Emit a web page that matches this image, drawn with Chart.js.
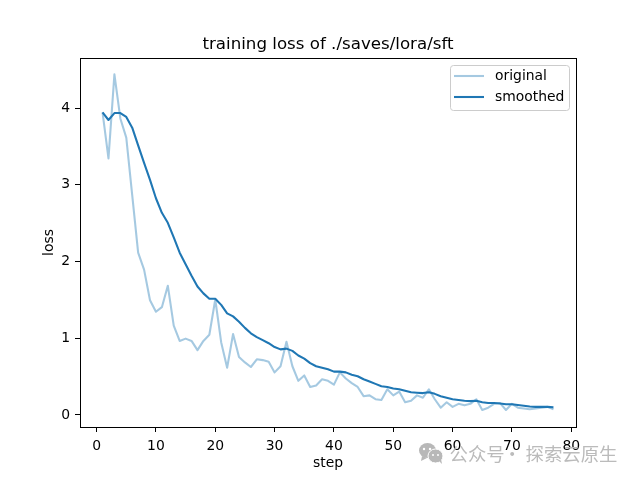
<!DOCTYPE html>
<html>
<head>
<meta charset="utf-8">
<script src="https://cdn.jsdelivr.net/npm/chart.js@4"></script>
<style>
body{margin:0;background:#fff;}
canvas{display:block;}
</style>
</head>
<body>
<canvas id="myChart" width="640" height="480"></canvas>
<script>
let steps = [];
for(let i=1;i<=77;i++)
	steps.push(i);
let original = [3.945,3.345,4.44,3.865,3.615,2.865,2.115,1.895,1.495,1.345,1.405,1.685,1.165,0.965,0.995,0.965,0.845,0.965,1.045,1.505,
	0.945,0.615,1.055,0.755,0.685,0.625,0.725,0.715,0.695,0.555,0.635,0.955,0.635,0.445,0.515,0.365,0.385,0.465,0.445,0.395,
	0.555,0.475,0.415,0.365,0.245,0.255,0.205,0.195,0.335,0.255,0.305,0.165,0.185,0.255,0.225,0.335,0.205,0.095,0.165,0.105,
	0.145,0.125,0.145,0.205,0.065,0.095,0.145,0.155,0.065,0.145,0.095,0.085,0.075,0.085,0.095,0.105,0.075];
let smoothed = [3.945,3.845,3.935,3.935,3.885,3.745,3.515,3.285,3.065,2.825,2.635,2.505,2.315,2.115,1.965,1.815,1.675,1.585,1.515,1.515,
	1.435,1.325,1.285,1.215,1.135,1.065,1.015,0.975,0.935,0.885,0.855,0.865,0.835,0.775,0.735,0.675,0.635,0.615,0.595,0.565,
	0.565,0.555,0.525,0.505,0.465,0.435,0.405,0.375,0.365,0.345,0.335,0.315,0.295,0.29,0.285,0.295,0.275,0.245,0.225,0.205,
	0.195,0.185,0.18,0.185,0.165,0.155,0.155,0.15,0.14,0.14,0.13,0.12,0.11,0.105,0.105,0.105,0.1];
let xTicks = [0,10,20,30,40,50,60,70,80];
let yTicks = [0,1,2,3,4];
let titleText = "training loss of ./saves/lora/sft";
let watermarkParts = ["公众号", "·", "探索云原生"];

let fontName = "'DejaVu Sans'";

// matplotlib style legend and the closed axes box
let boxPlugin = {
	id: "boxPlugin",
	afterDatasetsDraw: function(chart){
		let ctx = chart.ctx;
		let a = chart.chartArea;
		ctx.save();
		ctx.strokeStyle = "#000";
		ctx.lineWidth = 1;
		ctx.strokeRect(Math.round(a.left)+0.5, Math.round(a.top)+0.5, a.right-a.left, a.bottom-a.top);
		// legend
		ctx.strokeStyle = "#cccccc";
		ctx.fillStyle = "rgba(255,255,255,0.8)";
		ctx.beginPath();
		ctx.roundRect(450.5, 65.5, 119, 45, 3);
		ctx.fill();
		ctx.stroke();
		let names = [chart.data.datasets[0], chart.data.datasets[1]];
		ctx.font = "13.9px " + fontName;
		ctx.textBaseline = "middle";
		for(let i=0;i<names.length;i++){
			let y = 76 + i*21;
			ctx.strokeStyle = names[i].borderColor;
			ctx.lineWidth = 2.08;
			ctx.beginPath();
			ctx.moveTo(454, y);
			ctx.lineTo(484, y);
			ctx.stroke();
			ctx.fillStyle = "#000";
			ctx.fillText(names[i].label, 495, y);
		}
		ctx.restore();
	},
	afterDraw: function(chart){
		let ctx = chart.ctx;
		ctx.save();
		// wechat icon
		ctx.fillStyle = "#b8b8b8";
		ctx.beginPath();
		ctx.ellipse(427.5, 450.5, 8.5, 7.5, 0, 0, Math.PI*2);
		ctx.fill();
		ctx.beginPath();
		ctx.moveTo(422, 456);
		ctx.lineTo(421, 461);
		ctx.lineTo(427, 458);
		ctx.fill();
		ctx.strokeStyle = "#fff";
		ctx.lineWidth = 1;
		ctx.beginPath();
		ctx.ellipse(435.5, 456, 7.5, 7, 0, 0, Math.PI*2);
		ctx.fill();
		ctx.stroke();
		ctx.beginPath();
		ctx.moveTo(439, 461);
		ctx.lineTo(442, 464);
		ctx.lineTo(441, 459);
		ctx.fill();
		ctx.fillStyle = "#fff";
		[[424,449,1.2],[430,449,1.2],[433,455,1],[438,455,1]].forEach(function(p){
			ctx.beginPath();
			ctx.arc(p[0], p[1], p[2], 0, Math.PI*2);
			ctx.fill();
		});
		// watermark text
		ctx.fillStyle = "#bbbbbb";
		ctx.font = "18.4px 'Noto Sans CJK SC'";
		ctx.textBaseline = "middle";
		ctx.fillText(watermarkParts[0], 449.5, 454);
		ctx.fillText(watermarkParts[1], 503, 454);
		ctx.fillText(watermarkParts[2], 525.5, 454);
		ctx.restore();
	}
};

let ctx = document.getElementById("myChart");
let chart = new Chart(ctx, {
	type: "line",
	data: {
		datasets: [{
			label: "original",
			data: original.map(function(v, i){ return {x: steps[i], y: v}; }),
			borderColor: "rgba(31,119,180,0.4)",
			borderWidth: 2.08,
			pointRadius: 0,
			tension: 0,
			borderJoinStyle: "round",
			order: 2
		},{
			label: "smoothed",
			data: smoothed.map(function(v, i){ return {x: steps[i], y: v}; }),
			borderColor: "#1f77b4",
			borderWidth: 2.08,
			pointRadius: 0,
			tension: 0,
			borderJoinStyle: "round",
			order: 1
		}]
	},
	options: {
		responsive: false,
		animation: false,
		devicePixelRatio: 1,
		layout: {padding: {right: 64}},
		plugins: {
			legend: {display: false},
			tooltip: {enabled: false},
			title: {
				display: true,
				text: titleText,
				fullSize: false,
				color: "#000",
				font: {family: fontName, size: 16.67, weight: "normal"},
				padding: {top: 35, bottom: 3}
			}
		},
		scales: {
			x: {
				type: "linear",
				min: -2.8,
				max: 80.8,
				afterBuildTicks: function(scale){
					scale.ticks = xTicks.map(function(v){ return {value: v}; });
				},
				afterFit: function(scale){ scale.height = 53; },
				grid: {drawOnChartArea: false, tickLength: 5, tickColor: "#000", color: "#000"},
				border: {color: "#000", width: 1},
				ticks: {color: "#000", font: {family: fontName, size: 13.9}, padding: 6, minRotation: 0, maxRotation: 0},
				title: {display: true, text: "step", color: "#000", font: {family: fontName, size: 13.9}, padding: {top: 0, bottom: 8}}
			},
			y: {
				min: -0.157,
				max: 4.653,
				afterBuildTicks: function(scale){
					scale.ticks = yTicks.map(function(v){ return {value: v}; });
				},
				afterFit: function(scale){ scale.width = 80; },
				grid: {drawOnChartArea: false, tickLength: 5, tickColor: "#000", color: "#000"},
				border: {color: "#000", width: 1},
				ticks: {color: "#000", font: {family: fontName, size: 13.9}, padding: 5},
				title: {display: true, text: "loss", color: "#000", font: {family: fontName, size: 13.9}, padding: {top: 41, bottom: 0}}
			}
		}
	},
	plugins: [boxPlugin]
});
</script>
</body>
</html>
